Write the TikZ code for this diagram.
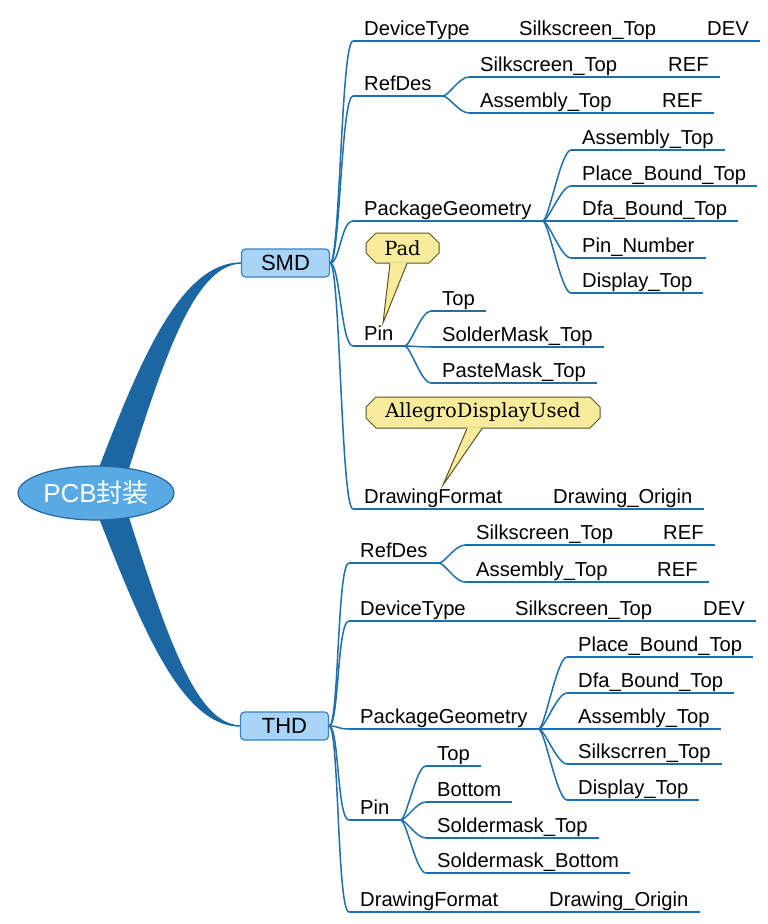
\documentclass[tikz,border=0pt]{standalone}
\usepackage{fontspec}
\setsansfont{Liberation Sans}
\newfontfamily\cjk{Noto Sans CJK SC}
\newfontfamily\notefont{DejaVu Serif}
\usepackage{xcolor}
\usepackage{tikz}
\usetikzlibrary{calc,shapes.geometric,shapes.misc}

\definecolor{trunkblue}{HTML}{1A67A3}
\definecolor{linkblue}{HTML}{1F6FAF}
\definecolor{rootfill}{HTML}{58A9E4}
\definecolor{rootline}{HTML}{22689F}
\definecolor{boxfill}{HTML}{A8D5F7}
\definecolor{boxline}{HTML}{3A80BF}
\definecolor{notefill}{HTML}{F8EB9C}
\definecolor{noteline}{HTML}{5C5420}

\begin{document}
\begin{tikzpicture}[x=1pt,y=1pt,
	branch/.style={linkblue,line width=1.5pt},
	topic/.style={anchor=south west,inner xsep=11pt,inner ysep=1pt,text height=15pt,text depth=4pt,font=\sffamily\fontsize{20.2}{22}\selectfont},
	mainbox/.style={draw=boxline,fill=boxfill,line width=1.2pt,rounded corners=4pt,minimum width=88pt,minimum height=28pt,inner sep=0pt,font=\sffamily\fontsize{22}{24}\selectfont},
	note/.style={chamfered rectangle,chamfered rectangle sep=5pt,draw=noteline,fill=notefill,line width=1pt,inner sep=0pt,minimum height=30pt,font=\notefont\fontsize{19.5}{22}\selectfont}]
	
	\useasboundingbox (0,0) rectangle (768,-924);
	
	\node[mainbox] (smd) at (285.5,-263) {SMD};
	\node[mainbox] (thd) at (284.5,-726) {THD};
	
	\fill[trunkblue] (95,-478) .. controls (140,-360) and (180,-263) .. ([yshift=0.7pt]smd.west)
		-- ([yshift=-0.7pt]smd.west) .. controls (193,-265) and (162,-365) .. (126,-478) -- cycle;
	\fill[trunkblue] (95,-508) .. controls (140,-623) and (180,-726) .. ([yshift=-0.7pt]thd.west)
		-- ([yshift=0.7pt]thd.west) .. controls (193,-724) and (162,-620) .. (126,-508) -- cycle;
	
	\node[ellipse,draw=rootline,fill=rootfill,line width=1.2pt,minimum width=156pt,minimum height=54pt,inner sep=0pt,text=white,font=\sffamily\fontsize{26}{28}\selectfont] (root) at (96,-493) {PCB{\cjk 封装}};
	
	% SMD
	\node[topic] (sDev) at (353,-41) {DeviceType};
	\node[topic] (sDevSilk) at (508,-41) {Silkscreen\_Top};
	\node[topic] (sDevDev) at (696,-41) {DEV};
	\node[topic] (sRef) at (353,-96) {RefDes};
	\node[topic] (sRefSilk) at (469,-77) {Silkscreen\_Top};
	\node[topic] (sRefSilkRef) at (657,-77) {REF};
	\node[topic] (sRefAsm) at (469,-113) {Assembly\_Top};
	\node[topic] (sRefAsmRef) at (651,-113) {REF};
	\node[topic] (sPkg) at (353,-221) {PackageGeometry};
	\node[topic] (sPkgA) at (571,-150) {Assembly\_Top};
	\node[topic] (sPkgB) at (571,-186) {Place\_Bound\_Top};
	\node[topic] (sPkgC) at (571,-221) {Dfa\_Bound\_Top};
	\node[topic] (sPkgD) at (571,-258) {Pin\_Number};
	\node[topic] (sPkgE) at (571,-293) {Display\_Top};
	\node[topic] (sPin) at (353,-346) {Pin};
	\node[topic] (sPinA) at (431,-311) {Top};
	\node[topic] (sPinB) at (431,-347) {SolderMask\_Top};
	\node[topic] (sPinC) at (431,-383) {PasteMask\_Top};
	\node[topic] (sDraw) at (353,-509) {DrawingFormat};
	\node[topic] (sDrawOrg) at (542,-509) {Drawing\_Origin};
	
	% THD
	\node[topic] (tRef) at (349,-563) {RefDes};
	\node[topic] (tRefSilk) at (465,-545) {Silkscreen\_Top};
	\node[topic] (tRefSilkRef) at (652,-545) {REF};
	\node[topic] (tRefAsm) at (465,-582) {Assembly\_Top};
	\node[topic] (tRefAsmRef) at (646,-582) {REF};
	\node[topic] (tDev) at (349,-621) {DeviceType};
	\node[topic] (tDevSilk) at (504,-621) {Silkscreen\_Top};
	\node[topic] (tDevDev) at (692,-621) {DEV};
	\node[topic] (tPkg) at (349,-729) {PackageGeometry};
	\node[topic] (tPkgA) at (567,-657) {Place\_Bound\_Top};
	\node[topic] (tPkgB) at (567,-693) {Dfa\_Bound\_Top};
	\node[topic] (tPkgC) at (567,-729) {Assembly\_Top};
	\node[topic] (tPkgD) at (567,-764) {Silkscrren\_Top};
	\node[topic] (tPkgE) at (567,-800) {Display\_Top};
	\node[topic] (tPin) at (349,-820) {Pin};
	\node[topic] (tPinA) at (426,-766) {Top};
	\node[topic] (tPinB) at (426,-802) {Bottom};
	\node[topic] (tPinC) at (426,-838) {Soldermask\_Top};
	\node[topic] (tPinD) at (426,-873) {Soldermask\_Bottom};
	\node[topic] (tDraw) at (349,-912) {DrawingFormat};
	\node[topic] (tDrawOrg) at (538,-912) {Drawing\_Origin};
	
	\foreach \n in {sDev,sDevSilk,sDevDev,sRef,sRefSilk,sRefSilkRef,sRefAsm,sRefAsmRef,sPkg,sPkgA,sPkgB,sPkgC,sPkgD,sPkgE,sPin,sPinA,sPinB,sPinC,sDraw,sDrawOrg,
		tRef,tRefSilk,tRefSilkRef,tRefAsm,tRefAsmRef,tDev,tDevSilk,tDevDev,tPkg,tPkgA,tPkgB,tPkgC,tPkgD,tPkgE,tPin,tPinA,tPinB,tPinC,tPinD,tDraw,tDrawOrg}
		\draw[branch] (\n.south west) -- (\n.south east);
	
	\foreach \c in {sDev,sRef,sPkg,sPin,sDraw}
		\draw[branch] (smd.east) .. controls +(10,0) and +(-12,0) .. (\c.south west);
	\foreach \c in {tRef,tDev,tPkg,tPin,tDraw}
		\draw[branch] (thd.east) .. controls +(10,0) and +(-12,0) .. (\c.south west);
	
	\foreach \p/\c in {sRef/sRefSilk,sRef/sRefAsm,sPkg/sPkgA,sPkg/sPkgB,sPkg/sPkgC,sPkg/sPkgD,sPkg/sPkgE,sPin/sPinA,sPin/sPinB,sPin/sPinC,
		tRef/tRefSilk,tRef/tRefAsm,tPkg/tPkgA,tPkg/tPkgB,tPkg/tPkgC,tPkg/tPkgD,tPkg/tPkgE,tPin/tPinA,tPin/tPinB,tPin/tPinC,tPin/tPinD}
		\draw[branch] (\p.south east) .. controls +(6,0) and +(-10,0) .. (\c.south west);
	
	\foreach \p/\c in {sDev/sDevSilk,sDevSilk/sDevDev,sRefSilk/sRefSilkRef,sRefAsm/sRefAsmRef,sDraw/sDrawOrg,
		tRefSilk/tRefSilkRef,tRefAsm/tRefAsmRef,tDev/tDevSilk,tDevSilk/tDevDev,tDraw/tDrawOrg}
		\draw[branch] (\p.south east) -- (\c.south west);
	
	% notes
	\node[note,minimum width=73pt] (pad) at (402.5,-248) {Pad};
	\coordinate (padTip) at (383,-323);
	\fill[notefill] ([xshift=-12.5pt,yshift=1.2pt]pad.south) -- (padTip) -- ([xshift=4.5pt,yshift=1.2pt]pad.south) -- cycle;
	\draw[noteline,line width=1pt] ([xshift=-12.5pt]pad.south) -- (padTip) -- ([xshift=4.5pt]pad.south);
	
	\node[note,minimum width=234pt,minimum height=31pt] (allegro) at (483,-412.5) {AllegroDisplayUsed};
	\coordinate (allegroTip) at (443,-485);
	\fill[notefill] ([xshift=-16pt,yshift=1.2pt]allegro.south) -- (allegroTip) -- ([xshift=-1pt,yshift=1.2pt]allegro.south) -- cycle;
	\draw[noteline,line width=1pt] ([xshift=-16pt]allegro.south) -- (allegroTip) -- ([xshift=-1pt]allegro.south);
\end{tikzpicture}
\end{document}
